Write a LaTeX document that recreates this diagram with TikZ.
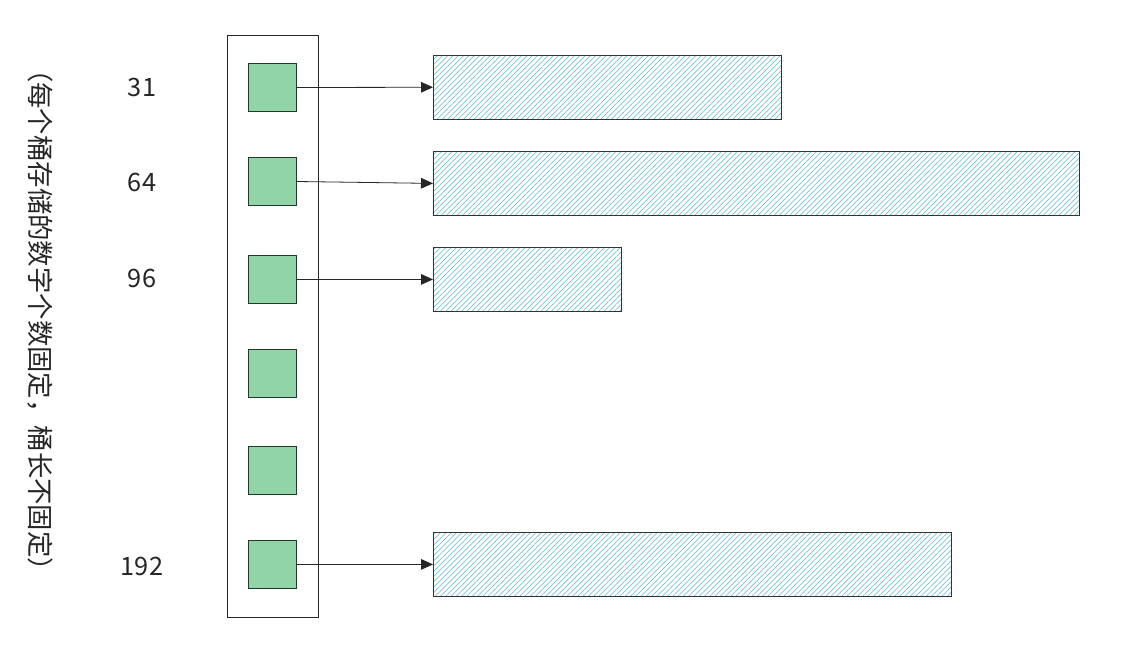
\documentclass[tikz,border=0pt]{standalone}
\usepackage{fontspec}
\setmainfont{Noto Sans CJK SC}
\usetikzlibrary{patterns.meta,arrows.meta}
\definecolor{sqfill}{RGB}{145,212,168}
\definecolor{sqdraw}{RGB}{30,60,40}
\definecolor{hatch}{RGB}{90,185,205}
\tikzset{
  bucket/.style={draw=sqdraw, fill=sqfill, line width=0.75pt, minimum size=36pt, inner sep=0pt, anchor=north west},
  bar/.style={draw=black!80, line width=0.6pt, anchor=north west, inner sep=0pt,
    pattern={Lines[angle=45,distance=2.8pt,line width=0.4pt]}, pattern color=hatch},
  link/.style={-{Triangle[length=9pt,width=8pt]}, line width=0.6pt, black!85},
  lbl/.style={font=\fontsize{19}{21}\selectfont, text=black!85}
}
\begin{document}
\begin{tikzpicture}[x=0.75pt,y=-0.75pt]
\useasboundingbox (0,0) rectangle (1148,646);
\fill[white] (0,0) rectangle (1148,646);
\node[draw=black!85, line width=0.75pt, minimum width=68.25pt, minimum height=436.5pt, inner sep=0pt, anchor=north west] (frame) at (227,35) {};
\foreach \n/\y in {a/63,b/157,c/255,d/349,e/446,f/540}{
  \node[bucket] (s\n) at (248,\y) {};
}
\node[bar, minimum width=261pt, minimum height=48pt] (ba) at (433,55) {};
\node[bar, minimum width=484.5pt, minimum height=48pt] (bb) at (433,151) {};
\node[bar, minimum width=141pt, minimum height=48pt] (bc) at (433,247) {};
\node[bar, minimum width=388.5pt, minimum height=48pt] (bf) at (433,532) {};
\draw[link] (sa.east) -- (ba.west);
\draw[link] (sb.east) -- (bb.west);
\draw[link] (sc.east) -- (bc.west);
\draw[link] (sf.east) -- (bf.west);
\node[lbl] (la) at (142,87) {31};
\node[lbl] (lb) at (142,182) {64};
\node[lbl] (lc) at (142,278) {96};
\node[lbl] (lf) at (142,566) {192};
\node[rotate=-90, font=\fontsize{19.8}{21}\selectfont, text=black!85, inner sep=0pt] (title) at (40,320) {（每个桶存储的数字个数固定，桶长不固定）};
\end{tikzpicture}
\end{document}
